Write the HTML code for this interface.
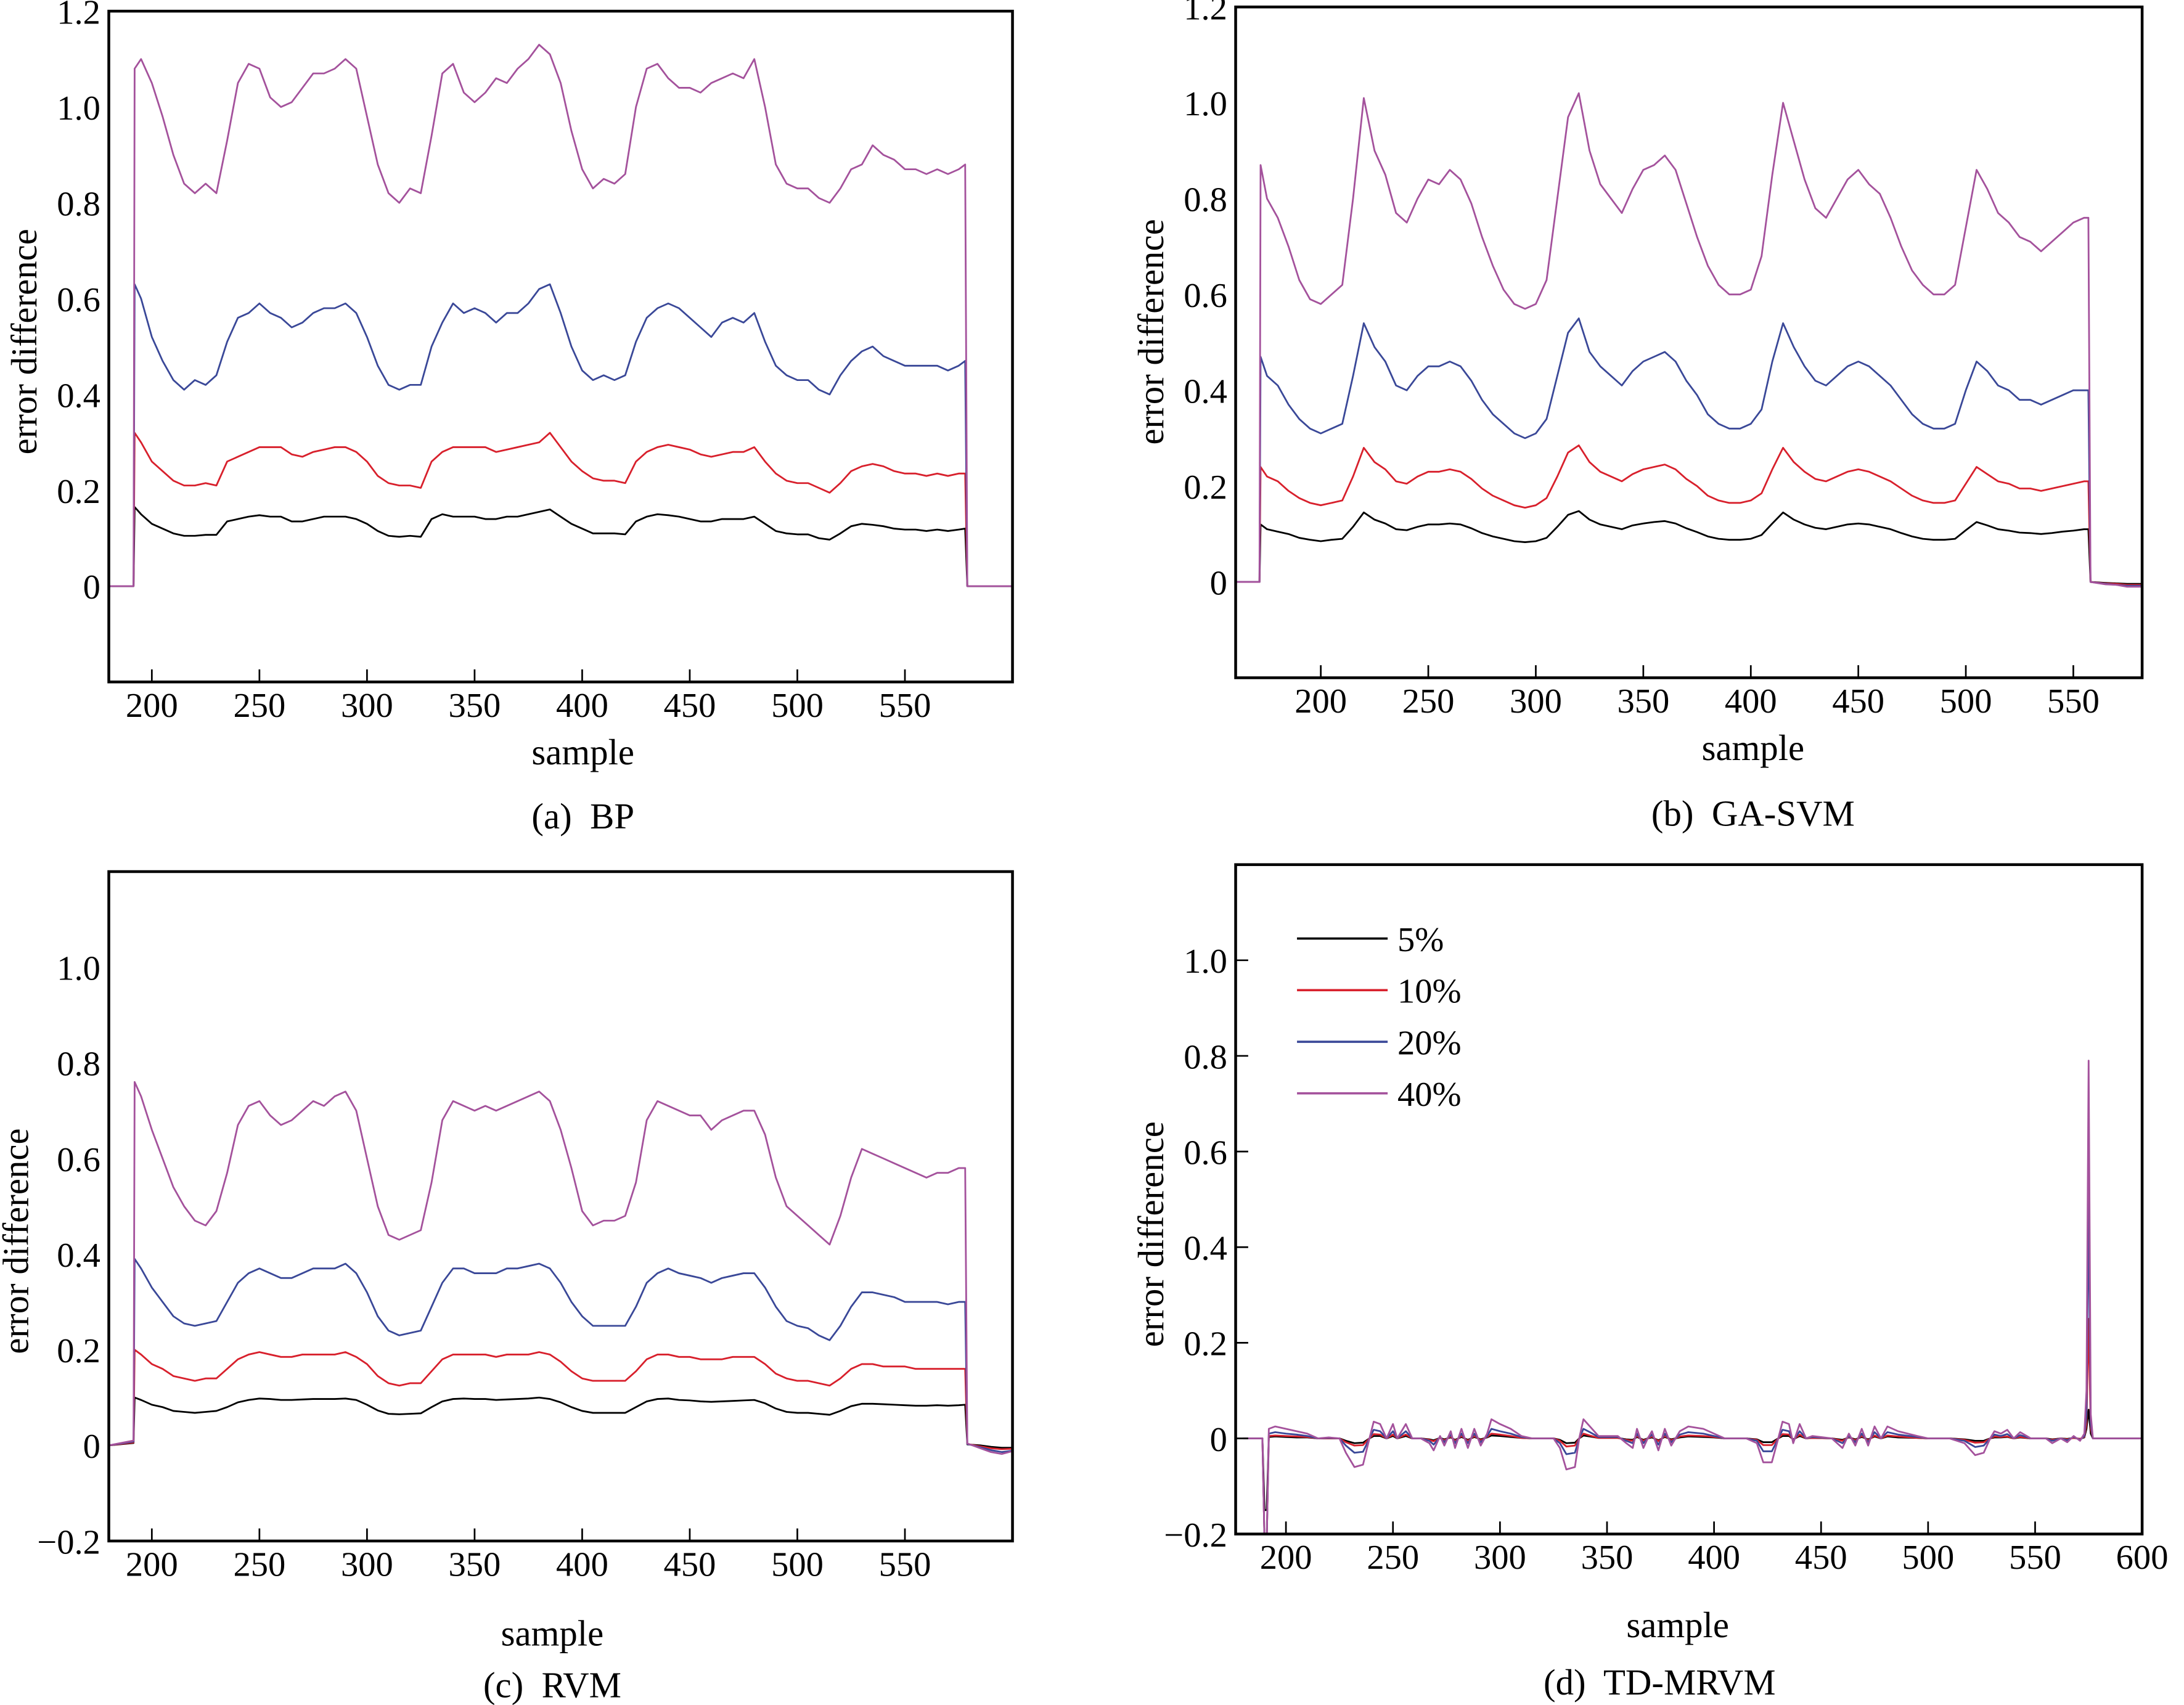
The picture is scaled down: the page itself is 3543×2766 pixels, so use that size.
<!DOCTYPE html>
<html><head><meta charset="utf-8"><style>
html,body{margin:0;padding:0;background:#fff;}
svg{display:block;}
text{font-family:"Liberation Serif",serif;fill:#000;}
.cap{white-space:pre;}
</style></head><body>
<svg id="fig" width="3543" height="2766" viewBox="0 0 1566 1222.6" xmlns="http://www.w3.org/2000/svg"></svg>
<script>
// ---------- Panel (a) BP ----------
const samplesA = [180,191.5,192,195,200,205,210,215,220,225,230,235,240,245,250,255,260,265,270,275,280,285,290,295,300,305,310,315,320,325,330,335,340,345,350,355,360,365,370,375,380,385,390,395,400,405,410,415,420,425,430,435,440,445,450,455,460,465,470,475,480,485,490,495,500,505,510,515,520,525,530,535,540,545,550,555,560,565,570,575,578,579,600];
const bp5 = [0,0,0.165,0.15,
0.13,0.12,0.11,0.105,0.105,0.107,0.107,0.135,0.14,0.145,
0.148,0.145,0.145,0.135,0.135,0.14,0.145,0.145,0.145,0.14,
0.13,0.115,0.105,0.103,0.105,0.103,0.14,0.15,0.145,0.145,
0.145,0.14,0.14,0.145,0.145,0.15,0.155,0.16,0.145,0.13,
0.12,0.11,0.11,0.11,0.108,0.135,0.145,0.15,0.148,0.145,
0.14,0.135,0.135,0.14,0.14,0.14,0.145,0.13,0.115,0.11,
0.108,0.108,0.1,0.097,0.11,0.125,0.13,0.128,0.125,0.12,
0.118,0.118,0.115,0.118,0.115,0.118,0.12,0,0];
const bp10 = [0,0,0.32,0.30,
0.26,0.24,0.22,0.21,0.21,0.215,0.21,0.26,0.27,0.28,
0.29,0.29,0.29,0.275,0.27,0.28,0.285,0.29,0.29,0.28,
0.26,0.23,0.215,0.21,0.21,0.205,0.26,0.28,0.29,0.29,
0.29,0.29,0.28,0.285,0.29,0.295,0.30,0.32,0.29,0.26,
0.24,0.225,0.22,0.22,0.215,0.26,0.28,0.29,0.295,0.29,
0.285,0.275,0.27,0.275,0.28,0.28,0.29,0.26,0.235,0.22,
0.215,0.215,0.205,0.195,0.215,0.24,0.25,0.255,0.25,0.24,
0.235,0.235,0.23,0.235,0.23,0.235,0.235,0,0];
const bp20 = [0,0,0.63,0.60,
0.52,0.47,0.43,0.41,0.43,0.42,0.44,0.51,0.56,0.57,
0.59,0.57,0.56,0.54,0.55,0.57,0.58,0.58,0.59,0.57,
0.52,0.46,0.42,0.41,0.42,0.42,0.50,0.55,0.59,0.57,
0.58,0.57,0.55,0.57,0.57,0.59,0.62,0.63,0.57,0.50,
0.45,0.43,0.44,0.43,0.44,0.51,0.56,0.58,0.59,0.58,
0.56,0.54,0.52,0.55,0.56,0.55,0.57,0.51,0.46,0.44,
0.43,0.43,0.41,0.40,0.44,0.47,0.49,0.50,0.48,0.47,
0.46,0.46,0.46,0.46,0.45,0.46,0.47,0,0];
const bp40 = [0,0,1.08,1.10,
1.05,0.98,0.90,0.84,0.82,0.84,0.82,0.93,1.05,1.09,
1.08,1.02,1.00,1.01,1.04,1.07,1.07,1.08,1.10,1.08,
0.98,0.88,0.82,0.80,0.83,0.82,0.94,1.07,1.09,1.03,
1.01,1.03,1.06,1.05,1.08,1.10,1.13,1.11,1.05,0.95,
0.87,0.83,0.85,0.84,0.86,1.00,1.08,1.09,1.06,1.04,
1.04,1.03,1.05,1.06,1.07,1.06,1.10,1.00,0.88,0.84,
0.83,0.83,0.81,0.80,0.83,0.87,0.88,0.92,0.90,0.89,
0.87,0.87,0.86,0.87,0.86,0.87,0.88,0,0];

// ---------- Panel (b) GA-SVM ----------
const samplesB = [160,171.5,172,175,180,185,190,195,200,205,210,215,220,225,230,235,240,245,250,255,260,265,270,275,280,285,290,295,300,305,310,315,320,325,330,335,340,345,350,355,360,365,370,375,380,385,390,395,400,405,410,415,420,425,430,435,440,445,450,455,460,465,470,475,480,485,490,495,500,505,510,515,520,525,530,535,540,545,550,555,557,558,565,570,575,582];
const ga5 = [0,0,0.12,0.11,
0.105,0.1,0.092,0.088,0.085,0.088,0.09,0.115,0.145,0.13,
0.122,0.11,0.108,0.115,0.12,0.12,0.122,0.12,0.112,0.102,
0.095,0.09,0.085,0.083,0.085,0.092,0.115,0.14,0.148,0.13,
0.12,0.115,0.11,0.118,0.122,0.125,0.127,0.122,0.112,0.104,
0.095,0.09,0.088,0.088,0.09,0.098,0.122,0.145,0.13,0.12,
0.113,0.11,0.115,0.12,0.122,0.12,0.115,0.11,0.102,0.095,
0.09,0.088,0.088,0.09,0.108,0.125,0.118,0.11,0.107,0.103,
0.102,0.1,0.102,0.105,0.107,0.11,0.11,0,-0.002,-0.003,-0.004,-0.004];
const ga10 = [0,0,0.24,0.22,
0.21,0.19,0.175,0.165,0.16,0.165,0.17,0.22,0.28,0.25,
0.235,0.21,0.205,0.22,0.23,0.23,0.235,0.23,0.215,0.195,
0.18,0.17,0.16,0.155,0.16,0.175,0.22,0.27,0.285,0.25,
0.23,0.22,0.21,0.225,0.235,0.24,0.245,0.235,0.215,0.20,
0.18,0.17,0.165,0.165,0.17,0.185,0.235,0.28,0.25,0.23,
0.215,0.21,0.22,0.23,0.235,0.23,0.22,0.21,0.195,0.18,
0.17,0.165,0.165,0.17,0.205,0.24,0.225,0.21,0.205,0.195,
0.195,0.19,0.195,0.20,0.205,0.21,0.21,0,-0.003,-0.004,-0.006,-0.006];
const ga20 = [0,0,0.47,0.43,
0.41,0.37,0.34,0.32,0.31,0.32,0.33,0.43,0.54,0.49,
0.46,0.41,0.40,0.43,0.45,0.45,0.46,0.45,0.42,0.38,
0.35,0.33,0.31,0.30,0.31,0.34,0.43,0.52,0.55,0.48,
0.45,0.43,0.41,0.44,0.46,0.47,0.48,0.46,0.42,0.39,
0.35,0.33,0.32,0.32,0.33,0.36,0.46,0.54,0.49,0.45,
0.42,0.41,0.43,0.45,0.46,0.45,0.43,0.41,0.38,0.35,
0.33,0.32,0.32,0.33,0.40,0.46,0.44,0.41,0.40,0.38,
0.38,0.37,0.38,0.39,0.40,0.40,0.40,0,-0.004,-0.006,-0.008,-0.008];
const ga40 = [0,0,0.87,0.80,
0.76,0.70,0.63,0.59,0.58,0.60,0.62,0.80,1.01,0.90,
0.85,0.77,0.75,0.80,0.84,0.83,0.86,0.84,0.79,0.72,
0.66,0.61,0.58,0.57,0.58,0.63,0.80,0.97,1.02,0.90,
0.83,0.80,0.77,0.82,0.86,0.87,0.89,0.86,0.79,0.72,
0.66,0.62,0.60,0.60,0.61,0.68,0.85,1.00,0.92,0.84,
0.78,0.76,0.80,0.84,0.86,0.83,0.81,0.76,0.70,0.65,
0.62,0.60,0.60,0.62,0.74,0.86,0.82,0.77,0.75,0.72,
0.71,0.69,0.71,0.73,0.75,0.76,0.76,0,-0.005,-0.006,-0.01,-0.01];

// ---------- Panel (c) RVM ----------
const samplesC = [180,191.5,192,195,200,205,210,215,220,225,230,235,240,245,250,255,260,265,270,275,280,285,290,295,300,305,310,315,320,325,330,335,340,345,350,355,360,365,370,375,380,385,390,395,400,405,410,415,420,425,430,435,440,445,450,455,460,465,470,475,480,485,490,495,500,505,510,515,520,525,530,535,540,545,550,555,560,565,570,575,578,579,585,590,595,600];
const rvm5 = [0,0.005,0.10,0.095,
0.085,0.08,0.072,0.07,0.068,0.07,0.072,0.08,0.09,0.095,
0.098,0.097,0.095,0.095,0.096,0.097,0.097,0.097,0.098,0.095,
0.085,0.073,0.066,0.065,0.066,0.067,0.08,0.092,0.097,0.098,
0.097,0.097,0.095,0.096,0.097,0.098,0.1,0.097,0.09,0.08,
0.072,0.068,0.068,0.068,0.068,0.08,0.092,0.097,0.098,0.095,
0.094,0.092,0.091,0.092,0.093,0.094,0.095,0.088,0.077,0.07,
0.068,0.068,0.066,0.064,0.072,0.082,0.087,0.087,0.086,0.085,
0.084,0.083,0.083,0.084,0.083,0.084,0.085,0.002,0,-0.003,-0.005,-0.005];
const rvm10 = [0,0.006,0.20,0.19,
0.17,0.16,0.145,0.14,0.135,0.14,0.14,0.16,0.18,0.19,
0.195,0.19,0.185,0.185,0.19,0.19,0.19,0.19,0.195,0.185,
0.17,0.145,0.13,0.125,0.13,0.13,0.155,0.18,0.19,0.19,
0.19,0.19,0.185,0.19,0.19,0.19,0.195,0.19,0.175,0.155,
0.14,0.135,0.135,0.135,0.135,0.155,0.18,0.19,0.19,0.185,
0.185,0.18,0.18,0.18,0.185,0.185,0.185,0.17,0.15,0.14,
0.135,0.135,0.13,0.125,0.14,0.16,0.17,0.17,0.165,0.165,
0.165,0.16,0.16,0.16,0.16,0.16,0.16,0.003,-0.002,-0.006,-0.008,-0.007];
const rvm20 = [0,0.008,0.39,0.37,
0.33,0.30,0.27,0.255,0.25,0.255,0.26,0.30,0.34,0.36,
0.37,0.36,0.35,0.35,0.36,0.37,0.37,0.37,0.38,0.36,
0.32,0.27,0.24,0.23,0.235,0.24,0.29,0.34,0.37,0.37,
0.36,0.36,0.36,0.37,0.37,0.375,0.38,0.37,0.34,0.30,
0.27,0.25,0.25,0.25,0.25,0.29,0.34,0.36,0.37,0.36,
0.355,0.35,0.34,0.35,0.355,0.36,0.36,0.33,0.29,0.26,
0.25,0.245,0.23,0.22,0.25,0.29,0.32,0.32,0.315,0.31,
0.30,0.30,0.30,0.30,0.295,0.30,0.30,0.003,-0.004,-0.01,-0.014,-0.011];
const rvm40 = [0,0.01,0.76,0.73,
0.66,0.60,0.54,0.50,0.47,0.46,0.49,0.57,0.67,0.71,
0.72,0.69,0.67,0.68,0.70,0.72,0.71,0.73,0.74,0.70,
0.60,0.50,0.44,0.43,0.44,0.45,0.55,0.68,0.72,0.71,
0.70,0.71,0.70,0.71,0.72,0.73,0.74,0.72,0.66,0.58,
0.49,0.46,0.47,0.47,0.48,0.55,0.68,0.72,0.71,0.70,
0.69,0.69,0.66,0.68,0.69,0.70,0.70,0.65,0.56,0.50,
0.48,0.46,0.44,0.42,0.48,0.56,0.62,0.61,0.60,0.59,
0.58,0.57,0.56,0.57,0.57,0.58,0.58,0.004,-0.006,-0.014,-0.018,-0.012];

// ---------- Panel (d) TD-MRVM ----------
const samplesD = [180,189,190,191,192,195,200,205,210,215,
220,225,228,232,236,239,241,244,247,250,
252,256,259,263,267,269,272,274,277,279,
282,285,288,291,294,296,300,305,310,315,
325,328,331,335,337,339,342,346,355,359,
362,364,367,369,371,374,377,380,384,388,
395,400,405,415,420,423,427,430,432,435,
437,440,443,446,455,460,463,466,469,472,
475,478,481,486,495,500,510,517,522,526,
529,531,534,537,540,543,548,555,558,562,
565,568,571,573,574,575,576,577,590,600];
const td5 = [0,0,-0.15,-0.15,0.003,0.004,0.003,0.002,0.002,0,
0,0,-0.005,-0.01,-0.009,0,0.005,0.005,0,0.005,
0,0.005,0,0,-0.002,-0.004,0.001,-0.002,0.002,-0.003,
0.003,-0.003,0.003,-0.002,0.002,0.006,0.005,0.003,0.001,0,
0,-0.003,-0.01,-0.009,0,0.006,0.004,0.001,0.001,-0.002,
-0.003,0.003,-0.003,0,0.002,-0.004,0.003,-0.002,0.002,0.004,
0.003,0.002,0,0,-0.002,-0.008,-0.008,0,0.005,0.005,
-0.002,0.005,0,0.001,0,-0.003,0.002,-0.002,0.003,-0.002,
0.004,0,0.004,0.002,0.001,0,0,-0.002,-0.005,-0.005,
0,0.002,0.002,0.003,0,0.002,0,0,-0.002,0,
-0.001,0.001,-0.001,0.002,0.02,0.06,0.01,0,0,0];
const td10 = [0,0,-0.22,-0.22,0.005,0.006,0.005,0.004,0.003,0,
0,0,-0.008,-0.015,-0.014,0,0.009,0.008,0,0.008,
0,0.008,0,0,-0.003,-0.006,0.001,-0.004,0.004,-0.005,
0.005,-0.005,0.005,-0.004,0.003,0.01,0.008,0.005,0.001,0,
0,-0.005,-0.017,-0.015,0,0.01,0.006,0.001,0.001,-0.003,
-0.005,0.005,-0.005,0,0.004,-0.006,0.005,-0.004,0.004,0.006,
0.005,0.003,0,0,-0.003,-0.014,-0.014,0,0.009,0.008,
-0.003,0.008,0,0.001,0,-0.005,0.003,-0.004,0.005,-0.004,
0.006,0,0.006,0.004,0.001,0,0,-0.003,-0.009,-0.008,
0,0.004,0.003,0.004,0,0.003,0,0,-0.003,0,
-0.002,0.001,-0.001,0.003,0.03,0.25,0.02,0,0,0];
const td20 = [0,0,-0.22,-0.22,0.01,0.013,0.01,0.008,0.005,0,
0.001,0,-0.015,-0.03,-0.028,0,0.018,0.015,0,0.015,
0,0.015,0,0,-0.005,-0.013,0.003,-0.008,0.008,-0.01,
0.01,-0.01,0.01,-0.008,0.005,0.02,0.015,0.01,0.003,0,
0,-0.01,-0.033,-0.03,0,0.02,0.013,0.003,0.003,-0.005,
-0.01,0.01,-0.01,0,0.008,-0.013,0.01,-0.008,0.008,0.013,
0.01,0.005,0,0,-0.005,-0.027,-0.027,0,0.018,0.015,
-0.005,0.015,0,0.003,0,-0.01,0.005,-0.008,0.01,-0.008,
0.013,0,0.013,0.008,0.003,0,0,-0.005,-0.018,-0.015,
0,0.008,0.005,0.009,0,0.007,0,0,-0.005,0,
-0.004,0.003,-0.003,0.005,0.05,0.5,0.03,0,0,0];
const td40 = [0,0,-0.22,-0.22,0.02,0.025,0.02,0.015,0.01,0,
0.002,0,-0.03,-0.06,-0.055,0,0.035,0.03,0,0.03,
0,0.03,0,0,-0.01,-0.025,0.005,-0.015,0.015,-0.02,
0.02,-0.02,0.02,-0.015,0.01,0.04,0.03,0.02,0.005,0,
0,-0.02,-0.065,-0.06,0,0.04,0.025,0.005,0.005,-0.01,
-0.02,0.02,-0.02,0,0.015,-0.025,0.02,-0.015,0.015,0.025,
0.02,0.01,0,0,-0.01,-0.05,-0.05,0,0.035,0.03,
-0.01,0.03,0,0.005,0,-0.02,0.01,-0.015,0.02,-0.015,
0.025,0,0.025,0.015,0.005,0,0,-0.01,-0.035,-0.03,
0,0.015,0.01,0.018,0,0.013,0,0,-0.01,0,
-0.008,0.005,-0.005,0.01,0.1,0.79,0.05,0,0,0];

const xTicksAB = [200,250,300,350,400,450,500,550];
const xTicksD = [200,250,300,350,400,450,500,550,600];
const yTicksAB = [0,0.2,0.4,0.6,0.8,1.0,1.2];
const yTicksC = [-0.2,0,0.2,0.4,0.6,0.8,1.0];
const yTicksD = [-0.2,0,0.2,0.4,0.6,0.8,1.0];
const yTickText = {"-0.2":"\u22120.2","0":"0","0.2":"0.2","0.4":"0.4","0.6":"0.6","0.8":"0.8","1":"1.0","1.2":"1.2"};
const legendLabels = ["5%","10%","20%","40%"];
const COLORS = ["#000000","#d8202c","#3a4898","#a4529c"];

const NS="http://www.w3.org/2000/svg";
const svg=document.getElementById('fig');
function mk(tag,attrs,parent){const e=document.createElementNS(NS,tag);for(const k in attrs)e.setAttribute(k,attrs[k]);(parent||svg).appendChild(e);return e;}

function drawPanel(p){
  const g=mk('g',{});
  
  
  const sx=v=>p.L+(v-p.x0)/(p.x1-p.x0)*(p.R-p.L);
  const sy=v=>p.B-(v-p.y0)/(p.y1-p.y0)*(p.B-p.T);
  const cp=mk('clipPath',{id:p.id+'-clip'},g);
  mk('rect',{x:p.L,y:p.T,width:p.R-p.L,height:p.B-p.T},cp);
  const lines=mk('g',{'clip-path':'url(#'+p.id+'-clip)'},g);
  
  
  p.series.forEach((s,i)=>{
    let d='';
    const n=Math.min(p.xs.length,s.length);
    for(let k=0;k<n;k++){d+=(k?'L':'M')+sx(p.xs[k]).toFixed(2)+' '+sy(s[k]).toFixed(2);}
    const path=mk('path',{d:d,fill:'none',stroke:COLORS[i],'stroke-width':1.25,'stroke-linejoin':'round'},lines);
    
    
  });
  const box=mk('rect',{x:p.L,y:p.T,width:p.R-p.L,height:p.B-p.T,fill:'none',stroke:'#000','stroke-width':2},g);
  
  
  p.xt.forEach(v=>{
    const X=sx(v);
    const t=mk('line',{x1:X,x2:X,y1:p.B,y2:p.B-9,stroke:'#000','stroke-width':1.2},g);
    
    
    const lb=mk('text',{x:X,y:p.B+25,'font-size':25,'text-anchor':'middle'},g);
    lb.textContent=String(v);
    
    
  });
  p.yt.forEach(v=>{
    const Y=sy(v);
    if(p.ytick){
      const t=mk('line',{x1:p.L,x2:p.L+9,y1:Y,y2:Y,stroke:'#000','stroke-width':1.2},g);
      
      
    }
    const lb=mk('text',{x:p.L-6,y:Y+9,'font-size':25,'text-anchor':'end'},g);
    lb.textContent=yTickText[String(v)];
    
    
  });
  const xl=mk('text',{x:p.sxl[0],y:p.sxl[1],'font-size':26,'text-anchor':'middle'},g);
  xl.textContent='sample';
  
  
  const yl=mk('text',{x:0,y:0,'font-size':26,'text-anchor':'middle',transform:'translate('+p.yl[0]+','+p.yl[1]+') rotate(-90)'},g);
  yl.textContent='error difference';
  
  
  const cap=mk('text',{x:p.cap[0],y:p.cap[1],'font-size':26,'text-anchor':'middle','class':'cap'},g);
  cap.textContent=p.caption;
  
  
  return {g,sx,sy};
}

drawPanel({id:'panel-a-bp',L:78,R:726,T:8,B:489,x0:180,x1:600,y0:-0.2,y1:1.2,xs:samplesA,series:[bp5,bp10,bp20,bp40],xt:xTicksAB,yt:yTicksAB,ytick:false,sxl:[418,548],yl:[26,245],cap:[418,594],caption:'(a)  BP'});
drawPanel({id:'panel-b-ga-svm',L:886,R:1536,T:5,B:486,x0:160.4,x1:582,y0:-0.2,y1:1.2,xs:samplesB,series:[ga5,ga10,ga20,ga40],xt:xTicksAB,yt:yTicksAB,ytick:false,sxl:[1257,545],yl:[834,238],cap:[1257,592],caption:'(b)  GA-SVM'});
drawPanel({id:'panel-c-rvm',L:78,R:726,T:625,B:1105,x0:180,x1:600,y0:-0.2,y1:1.2,xs:samplesC,series:[rvm5,rvm10,rvm20,rvm40],xt:xTicksAB,yt:yTicksC,ytick:false,sxl:[396,1180],yl:[20,890],cap:[396,1217],caption:'(c)  RVM'});
drawPanel({id:'panel-d-td-mrvm',L:886,R:1536,T:620,B:1100,x0:176.5,x1:600,y0:-0.2,y1:1.2,xs:samplesD,series:[td5,td10,td20,td40],xt:xTicksD,yt:yTicksD,ytick:true,sxl:[1203,1174],yl:[834,885],cap:[1190,1215],caption:'(d)  TD-MRVM'});

// legend in panel d
const lg=mk('g',{});


legendLabels.forEach((lab,i)=>{
  const Y=673+i*37;
  const ln=mk('line',{x1:930,x2:995,y1:Y,y2:Y,stroke:COLORS[i],'stroke-width':1.6},lg);
  
  
  const t=mk('text',{x:1002,y:Y+9,'font-size':25},lg);
  t.textContent=lab;
  
  
});
</script>
</body></html>
